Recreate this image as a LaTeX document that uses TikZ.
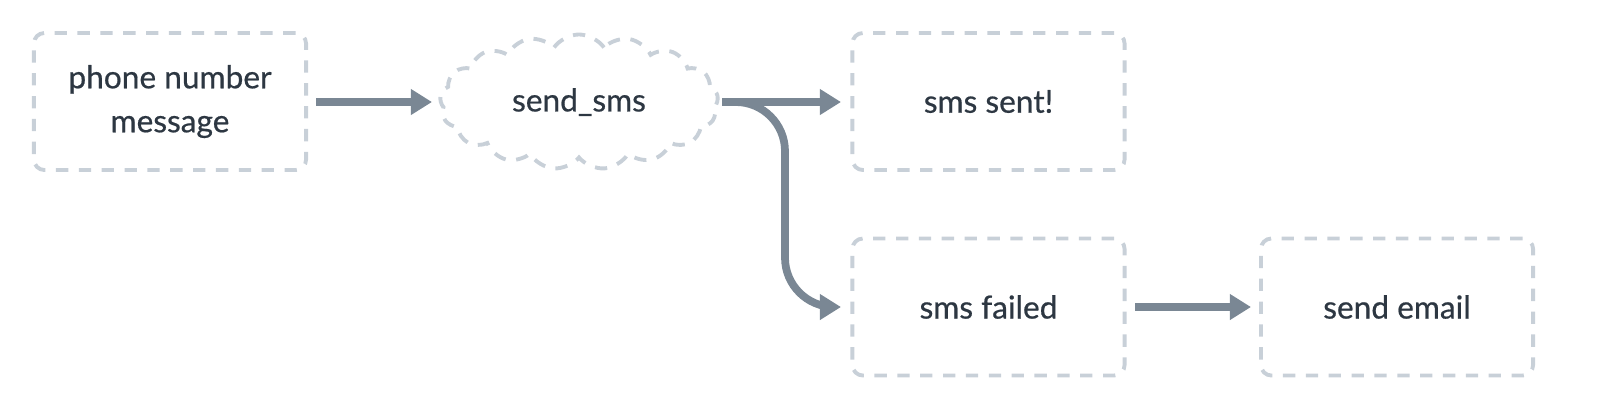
\documentclass[tikz,border=0pt]{standalone}
\usepackage{fontspec}
\setmainfont{Lato}
\newfontfamily\medfont{Lato}[FakeBold=0.6]
\usetikzlibrary{shapes.symbols,arrows.meta}
\definecolor{boxc}{HTML}{C8D0D8}
\definecolor{arrc}{HTML}{7A8794}
\definecolor{txtc}{HTML}{2D3742}
\tikzset{
 box/.style={draw=boxc,line width=1.1pt,rounded corners=3pt,minimum width=2.72cm,minimum height=1.37cm,align=center,text=txtc,font=\fontsize{9}{12.5}\selectfont\medfont,dash pattern=on 3.5pt off 3pt},
 cl/.style={draw=boxc,cloud,cloud puffs=17,cloud puff arc=110,aspect=2.2,line width=1.1pt,dash pattern=on 3.5pt off 3pt,minimum width=2.78cm,minimum height=1.35cm,text=txtc,font=\fontsize{9}{12.5}\selectfont\medfont,inner sep=0pt},
 arr/.style={draw=arrc,line width=2.2pt,-{Triangle[length=6pt,width=7pt]}}
}
\begin{document}
\begin{tikzpicture}[x=0.01cm,y=-0.01cm]
\useasboundingbox (0,0) rectangle (1600,417);
\node[box] (a) at (170,101.5) {phone number\\message};
\node[cl] (b) at (579,102) {send\_sms};
\node[box] (c) at (988.5,101.5) {sms sent!};
\node[box] (d) at (988.5,307) {sms failed};
\node[box] (e) at (1397,307) {send email};
\coordinate (a1) at (316,102);
\coordinate (b0) at (432,102);
\coordinate (b1) at (722,102);
\coordinate (c0) at (841,102);
\coordinate (d0) at (841,307);
\coordinate (d1) at (1135,307);
\coordinate (e0) at (1251,307);
\draw[arr] (a1) -- (b0);
\draw[arr] (b1) -- (c0);
\draw[arr,rounded corners=14pt] (b1) -- (785,102) -- (785,307) -- (d0);
\draw[arr] (d1) -- (e0);
\end{tikzpicture}
\end{document}
